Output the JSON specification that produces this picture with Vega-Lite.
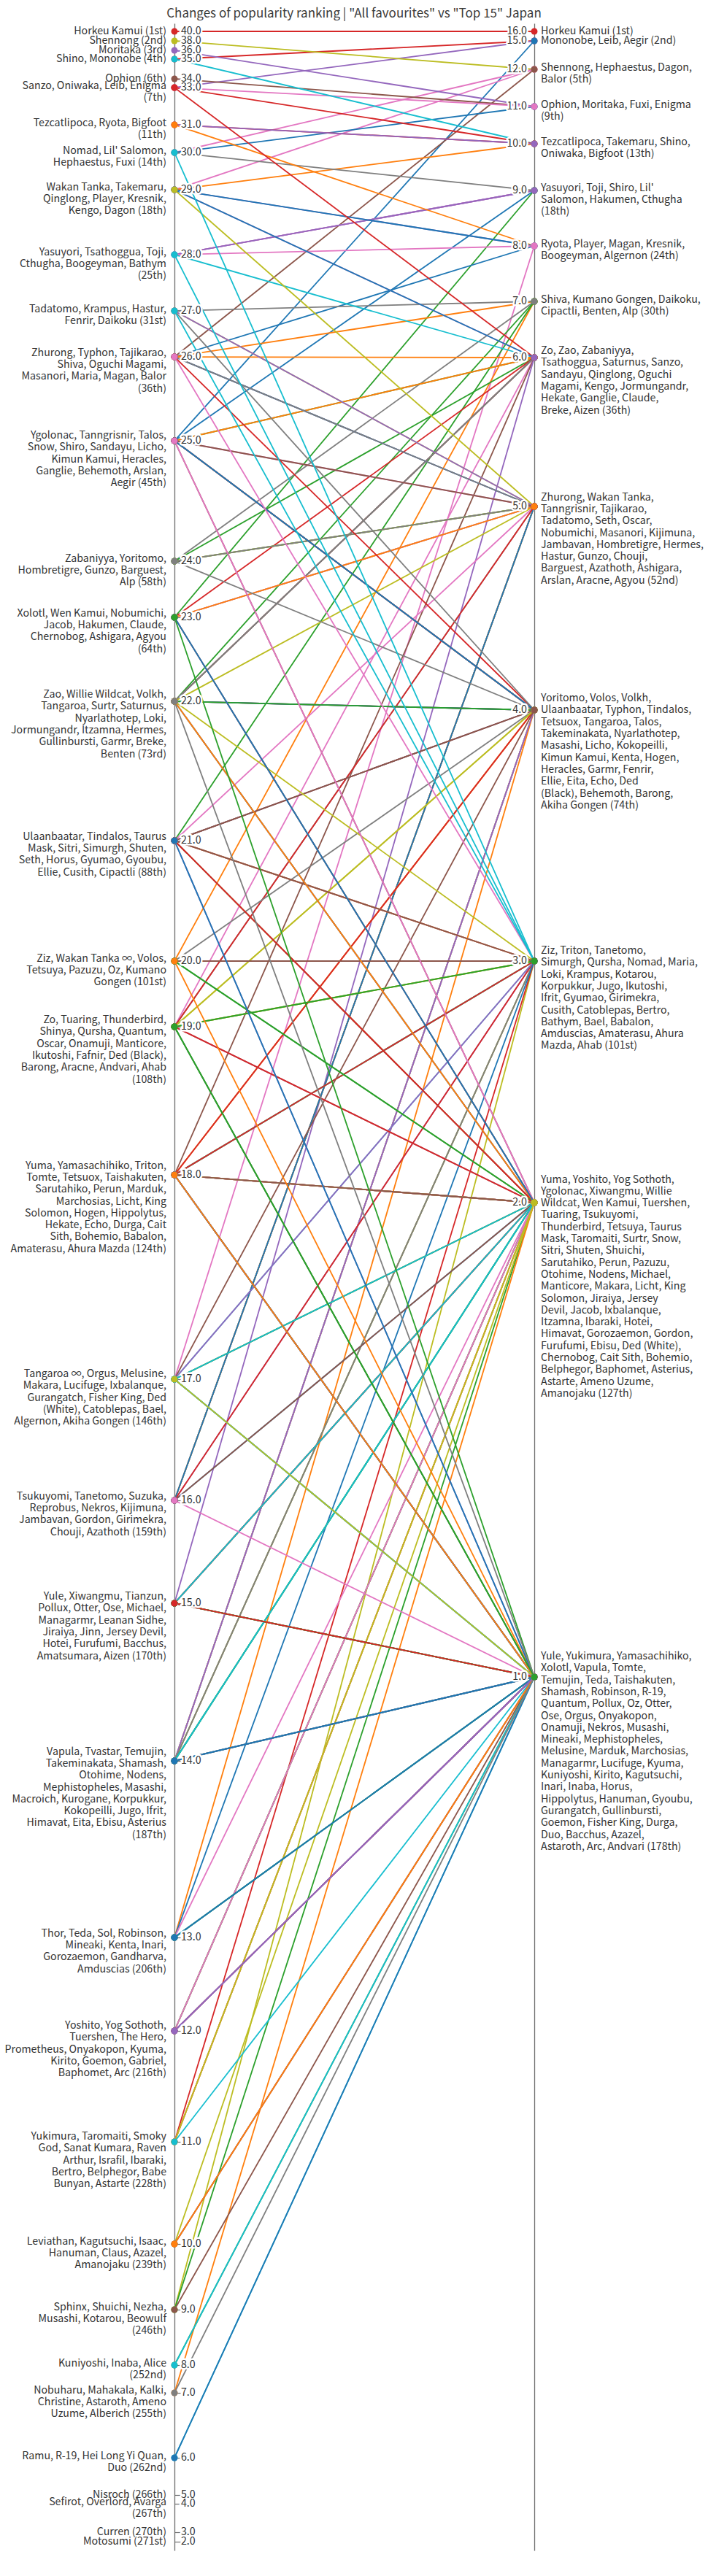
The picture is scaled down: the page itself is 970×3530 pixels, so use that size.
{
"$schema": "https://vega.github.io/schema/vega-lite/v6.json",
"width": 970,
"height": 3463,
"autosize": {"type": "none"},
"padding": {"top": 32, "left": 0, "right": 0, "bottom": 35},
"background": "white",
"title": {"text": "Changes of popularity ranking | \"All favourites\" vs \"Top 15\" Japan", "fontSize": 17, "font": "Noto Sans CJK JP", "fontWeight": "normal", "color": "#3a3a3a", "anchor": "middle", "frame": "group", "baseline": "alphabetic", "offset": -9},
"config": {"view": {"stroke": null}, "font": "Noto Sans CJK JP"},
"datasets": {
"chars": [
{"name":"Horkeu Kamui","All favourites":40,"Top 15":16},
{"name":"Mononobe","All favourites":35,"Top 15":15},
{"name":"Leib","All favourites":33,"Top 15":15},
{"name":"Aegir","All favourites":25,"Top 15":15},
{"name":"Shennong","All favourites":38,"Top 15":12},
{"name":"Hephaestus","All favourites":30,"Top 15":12},
{"name":"Dagon","All favourites":29,"Top 15":12},
{"name":"Balor","All favourites":26,"Top 15":12},
{"name":"Ophion","All favourites":34,"Top 15":11},
{"name":"Moritaka","All favourites":36,"Top 15":11},
{"name":"Fuxi","All favourites":30,"Top 15":11},
{"name":"Enigma","All favourites":33,"Top 15":11},
{"name":"Tezcatlipoca","All favourites":31,"Top 15":10},
{"name":"Takemaru","All favourites":29,"Top 15":10},
{"name":"Shino","All favourites":35,"Top 15":10},
{"name":"Oniwaka","All favourites":33,"Top 15":10},
{"name":"Bigfoot","All favourites":31,"Top 15":10},
{"name":"Yasuyori","All favourites":28,"Top 15":9},
{"name":"Toji","All favourites":28,"Top 15":9},
{"name":"Shiro","All favourites":25,"Top 15":9},
{"name":"Lil' Salomon","All favourites":30,"Top 15":9},
{"name":"Hakumen","All favourites":23,"Top 15":9},
{"name":"Cthugha","All favourites":28,"Top 15":9},
{"name":"Ryota","All favourites":31,"Top 15":8},
{"name":"Player","All favourites":29,"Top 15":8},
{"name":"Magan","All favourites":26,"Top 15":8},
{"name":"Kresnik","All favourites":29,"Top 15":8},
{"name":"Boogeyman","All favourites":28,"Top 15":8},
{"name":"Algernon","All favourites":17,"Top 15":8},
{"name":"Shiva","All favourites":26,"Top 15":7},
{"name":"Kumano Gongen","All favourites":20,"Top 15":7},
{"name":"Daikoku","All favourites":27,"Top 15":7},
{"name":"Cipactli","All favourites":21,"Top 15":7},
{"name":"Benten","All favourites":22,"Top 15":7},
{"name":"Alp","All favourites":24,"Top 15":7},
{"name":"Zo","All favourites":19,"Top 15":6},
{"name":"Zao","All favourites":22,"Top 15":6},
{"name":"Zabaniyya","All favourites":24,"Top 15":6},
{"name":"Tsathoggua","All favourites":28,"Top 15":6},
{"name":"Saturnus","All favourites":22,"Top 15":6},
{"name":"Sanzo","All favourites":33,"Top 15":6},
{"name":"Sandayu","All favourites":25,"Top 15":6},
{"name":"Qinglong","All favourites":29,"Top 15":6},
{"name":"Oguchi Magami","All favourites":26,"Top 15":6},
{"name":"Kengo","All favourites":29,"Top 15":6},
{"name":"Jormungandr","All favourites":22,"Top 15":6},
{"name":"Hekate","All favourites":18,"Top 15":6},
{"name":"Ganglie","All favourites":25,"Top 15":6},
{"name":"Claude","All favourites":23,"Top 15":6},
{"name":"Breke","All favourites":22,"Top 15":6},
{"name":"Aizen","All favourites":15,"Top 15":6},
{"name":"Zhurong","All favourites":26,"Top 15":5},
{"name":"Wakan Tanka","All favourites":29,"Top 15":5},
{"name":"Tanngrisnir","All favourites":25,"Top 15":5},
{"name":"Tajikarao","All favourites":26,"Top 15":5},
{"name":"Tadatomo","All favourites":27,"Top 15":5},
{"name":"Seth","All favourites":21,"Top 15":5},
{"name":"Oscar","All favourites":19,"Top 15":5},
{"name":"Nobumichi","All favourites":23,"Top 15":5},
{"name":"Masanori","All favourites":26,"Top 15":5},
{"name":"Kijimuna","All favourites":16,"Top 15":5},
{"name":"Jambavan","All favourites":16,"Top 15":5},
{"name":"Hombretigre","All favourites":24,"Top 15":5},
{"name":"Hermes","All favourites":22,"Top 15":5},
{"name":"Hastur","All favourites":27,"Top 15":5},
{"name":"Gunzo","All favourites":24,"Top 15":5},
{"name":"Chouji","All favourites":16,"Top 15":5},
{"name":"Barguest","All favourites":24,"Top 15":5},
{"name":"Azathoth","All favourites":16,"Top 15":5},
{"name":"Ashigara","All favourites":23,"Top 15":5},
{"name":"Arslan","All favourites":25,"Top 15":5},
{"name":"Aracne","All favourites":19,"Top 15":5},
{"name":"Agyou","All favourites":23,"Top 15":5},
{"name":"Yoritomo","All favourites":24,"Top 15":4},
{"name":"Volos","All favourites":20,"Top 15":4},
{"name":"Volkh","All favourites":22,"Top 15":4},
{"name":"Ulaanbaatar","All favourites":21,"Top 15":4},
{"name":"Typhon","All favourites":26,"Top 15":4},
{"name":"Tindalos","All favourites":21,"Top 15":4},
{"name":"Tetsuox","All favourites":18,"Top 15":4},
{"name":"Tangaroa","All favourites":22,"Top 15":4},
{"name":"Talos","All favourites":25,"Top 15":4},
{"name":"Takeminakata","All favourites":14,"Top 15":4},
{"name":"Nyarlathotep","All favourites":22,"Top 15":4},
{"name":"Masashi","All favourites":14,"Top 15":4},
{"name":"Licho","All favourites":25,"Top 15":4},
{"name":"Kokopeilli","All favourites":14,"Top 15":4},
{"name":"Kimun Kamui","All favourites":25,"Top 15":4},
{"name":"Kenta","All favourites":13,"Top 15":4},
{"name":"Hogen","All favourites":18,"Top 15":4},
{"name":"Heracles","All favourites":25,"Top 15":4},
{"name":"Garmr","All favourites":22,"Top 15":4},
{"name":"Fenrir","All favourites":27,"Top 15":4},
{"name":"Ellie","All favourites":21,"Top 15":4},
{"name":"Eita","All favourites":14,"Top 15":4},
{"name":"Echo","All favourites":18,"Top 15":4},
{"name":"Ded (Black)","All favourites":19,"Top 15":4},
{"name":"Behemoth","All favourites":25,"Top 15":4},
{"name":"Barong","All favourites":19,"Top 15":4},
{"name":"Akiha Gongen","All favourites":17,"Top 15":4},
{"name":"Ziz","All favourites":20,"Top 15":3},
{"name":"Triton","All favourites":18,"Top 15":3},
{"name":"Tanetomo","All favourites":16,"Top 15":3},
{"name":"Simurgh","All favourites":21,"Top 15":3},
{"name":"Qursha","All favourites":19,"Top 15":3},
{"name":"Nomad","All favourites":30,"Top 15":3},
{"name":"Maria","All favourites":26,"Top 15":3},
{"name":"Loki","All favourites":22,"Top 15":3},
{"name":"Krampus","All favourites":27,"Top 15":3},
{"name":"Kotarou","All favourites":9,"Top 15":3},
{"name":"Korpukkur","All favourites":14,"Top 15":3},
{"name":"Jugo","All favourites":14,"Top 15":3},
{"name":"Ikutoshi","All favourites":19,"Top 15":3},
{"name":"Ifrit","All favourites":14,"Top 15":3},
{"name":"Gyumao","All favourites":21,"Top 15":3},
{"name":"Girimekra","All favourites":16,"Top 15":3},
{"name":"Cusith","All favourites":21,"Top 15":3},
{"name":"Catoblepas","All favourites":17,"Top 15":3},
{"name":"Bertro","All favourites":11,"Top 15":3},
{"name":"Bathym","All favourites":28,"Top 15":3},
{"name":"Bael","All favourites":17,"Top 15":3},
{"name":"Babalon","All favourites":18,"Top 15":3},
{"name":"Amduscias","All favourites":13,"Top 15":3},
{"name":"Amaterasu","All favourites":18,"Top 15":3},
{"name":"Ahura Mazda","All favourites":18,"Top 15":3},
{"name":"Ahab","All favourites":19,"Top 15":3},
{"name":"Yuma","All favourites":18,"Top 15":2},
{"name":"Yoshito","All favourites":12,"Top 15":2},
{"name":"Yog Sothoth","All favourites":12,"Top 15":2},
{"name":"Ygolonac","All favourites":25,"Top 15":2},
{"name":"Xiwangmu","All favourites":15,"Top 15":2},
{"name":"Willie Wildcat","All favourites":22,"Top 15":2},
{"name":"Wen Kamui","All favourites":23,"Top 15":2},
{"name":"Tuershen","All favourites":12,"Top 15":2},
{"name":"Tuaring","All favourites":19,"Top 15":2},
{"name":"Tsukuyomi","All favourites":16,"Top 15":2},
{"name":"Thunderbird","All favourites":19,"Top 15":2},
{"name":"Tetsuya","All favourites":20,"Top 15":2},
{"name":"Taurus Mask","All favourites":21,"Top 15":2},
{"name":"Taromaiti","All favourites":11,"Top 15":2},
{"name":"Surtr","All favourites":22,"Top 15":2},
{"name":"Snow","All favourites":25,"Top 15":2},
{"name":"Sitri","All favourites":21,"Top 15":2},
{"name":"Shuten","All favourites":21,"Top 15":2},
{"name":"Shuichi","All favourites":9,"Top 15":2},
{"name":"Sarutahiko","All favourites":18,"Top 15":2},
{"name":"Perun","All favourites":18,"Top 15":2},
{"name":"Pazuzu","All favourites":20,"Top 15":2},
{"name":"Otohime","All favourites":14,"Top 15":2},
{"name":"Nodens","All favourites":14,"Top 15":2},
{"name":"Michael","All favourites":15,"Top 15":2},
{"name":"Manticore","All favourites":19,"Top 15":2},
{"name":"Makara","All favourites":17,"Top 15":2},
{"name":"Licht","All favourites":18,"Top 15":2},
{"name":"King Solomon","All favourites":18,"Top 15":2},
{"name":"Jiraiya","All favourites":15,"Top 15":2},
{"name":"Jersey Devil","All favourites":15,"Top 15":2},
{"name":"Jacob","All favourites":23,"Top 15":2},
{"name":"Ixbalanque","All favourites":17,"Top 15":2},
{"name":"Itzamna","All favourites":22,"Top 15":2},
{"name":"Ibaraki","All favourites":11,"Top 15":2},
{"name":"Hotei","All favourites":15,"Top 15":2},
{"name":"Himavat","All favourites":14,"Top 15":2},
{"name":"Gorozaemon","All favourites":13,"Top 15":2},
{"name":"Gordon","All favourites":16,"Top 15":2},
{"name":"Furufumi","All favourites":15,"Top 15":2},
{"name":"Ebisu","All favourites":14,"Top 15":2},
{"name":"Ded (White)","All favourites":17,"Top 15":2},
{"name":"Chernobog","All favourites":23,"Top 15":2},
{"name":"Cait Sith","All favourites":18,"Top 15":2},
{"name":"Bohemio","All favourites":18,"Top 15":2},
{"name":"Belphegor","All favourites":11,"Top 15":2},
{"name":"Baphomet","All favourites":12,"Top 15":2},
{"name":"Asterius","All favourites":14,"Top 15":2},
{"name":"Astarte","All favourites":11,"Top 15":2},
{"name":"Ameno Uzume","All favourites":7,"Top 15":2},
{"name":"Amanojaku","All favourites":10,"Top 15":2},
{"name":"Yule","All favourites":15,"Top 15":1},
{"name":"Yukimura","All favourites":11,"Top 15":1},
{"name":"Yamasachihiko","All favourites":18,"Top 15":1},
{"name":"Xolotl","All favourites":23,"Top 15":1},
{"name":"Vapula","All favourites":14,"Top 15":1},
{"name":"Tomte","All favourites":18,"Top 15":1},
{"name":"Temujin","All favourites":14,"Top 15":1},
{"name":"Teda","All favourites":13,"Top 15":1},
{"name":"Taishakuten","All favourites":18,"Top 15":1},
{"name":"Shamash","All favourites":14,"Top 15":1},
{"name":"Robinson","All favourites":13,"Top 15":1},
{"name":"R-19","All favourites":6,"Top 15":1},
{"name":"Quantum","All favourites":19,"Top 15":1},
{"name":"Pollux","All favourites":15,"Top 15":1},
{"name":"Oz","All favourites":20,"Top 15":1},
{"name":"Otter","All favourites":15,"Top 15":1},
{"name":"Ose","All favourites":15,"Top 15":1},
{"name":"Orgus","All favourites":17,"Top 15":1},
{"name":"Onyakopon","All favourites":12,"Top 15":1},
{"name":"Onamuji","All favourites":19,"Top 15":1},
{"name":"Nekros","All favourites":16,"Top 15":1},
{"name":"Musashi","All favourites":9,"Top 15":1},
{"name":"Mineaki","All favourites":13,"Top 15":1},
{"name":"Mephistopheles","All favourites":14,"Top 15":1},
{"name":"Melusine","All favourites":17,"Top 15":1},
{"name":"Marduk","All favourites":18,"Top 15":1},
{"name":"Marchosias","All favourites":18,"Top 15":1},
{"name":"Managarmr","All favourites":15,"Top 15":1},
{"name":"Lucifuge","All favourites":17,"Top 15":1},
{"name":"Kyuma","All favourites":12,"Top 15":1},
{"name":"Kuniyoshi","All favourites":8,"Top 15":1},
{"name":"Kirito","All favourites":12,"Top 15":1},
{"name":"Kagutsuchi","All favourites":10,"Top 15":1},
{"name":"Inari","All favourites":13,"Top 15":1},
{"name":"Inaba","All favourites":8,"Top 15":1},
{"name":"Horus","All favourites":21,"Top 15":1},
{"name":"Hippolytus","All favourites":18,"Top 15":1},
{"name":"Hanuman","All favourites":10,"Top 15":1},
{"name":"Gyoubu","All favourites":21,"Top 15":1},
{"name":"Gurangatch","All favourites":17,"Top 15":1},
{"name":"Gullinbursti","All favourites":22,"Top 15":1},
{"name":"Goemon","All favourites":12,"Top 15":1},
{"name":"Fisher King","All favourites":17,"Top 15":1},
{"name":"Durga","All favourites":18,"Top 15":1},
{"name":"Duo","All favourites":6,"Top 15":1},
{"name":"Bacchus","All favourites":15,"Top 15":1},
{"name":"Azazel","All favourites":10,"Top 15":1},
{"name":"Astaroth","All favourites":7,"Top 15":1},
{"name":"Arc","All favourites":12,"Top 15":1},
{"name":"Andvari","All favourites":19,"Top 15":1}
],
"groups": [
{"side":"All favourites","v":40,"label":["Horkeu Kamui (1st)"]},
{"side":"All favourites","v":38,"label":["Shennong (2nd)"]},
{"side":"All favourites","v":36,"label":["Moritaka (3rd)"]},
{"side":"All favourites","v":35,"label":["Shino, Mononobe (4th)"]},
{"side":"All favourites","v":34,"label":["Ophion (6th)"]},
{"side":"All favourites","v":33,"label":["Sanzo, Oniwaka, Leib, Enigma","(7th)"]},
{"side":"All favourites","v":31,"label":["Tezcatlipoca, Ryota, Bigfoot","(11th)"]},
{"side":"All favourites","v":30,"label":["Nomad, Lil' Salomon,","Hephaestus, Fuxi (14th)"]},
{"side":"All favourites","v":29,"label":["Wakan Tanka, Takemaru,","Qinglong, Player, Kresnik,","Kengo, Dagon (18th)"]},
{"side":"All favourites","v":28,"label":["Yasuyori, Tsathoggua, Toji,","Cthugha, Boogeyman, Bathym","(25th)"]},
{"side":"All favourites","v":27,"label":["Tadatomo, Krampus, Hastur,","Fenrir, Daikoku (31st)"]},
{"side":"All favourites","v":26,"label":["Zhurong, Typhon, Tajikarao,","Shiva, Oguchi Magami,","Masanori, Maria, Magan, Balor","(36th)"]},
{"side":"All favourites","v":25,"label":["Ygolonac, Tanngrisnir, Talos,","Snow, Shiro, Sandayu, Licho,","Kimun Kamui, Heracles,","Ganglie, Behemoth, Arslan,","Aegir (45th)"]},
{"side":"All favourites","v":24,"label":["Zabaniyya, Yoritomo,","Hombretigre, Gunzo, Barguest,","Alp (58th)"]},
{"side":"All favourites","v":23,"label":["Xolotl, Wen Kamui, Nobumichi,","Jacob, Hakumen, Claude,","Chernobog, Ashigara, Agyou","(64th)"]},
{"side":"All favourites","v":22,"label":["Zao, Willie Wildcat, Volkh,","Tangaroa, Surtr, Saturnus,","Nyarlathotep, Loki,","Jormungandr, Itzamna, Hermes,","Gullinbursti, Garmr, Breke,","Benten (73rd)"]},
{"side":"All favourites","v":21,"label":["Ulaanbaatar, Tindalos, Taurus","Mask, Sitri, Simurgh, Shuten,","Seth, Horus, Gyumao, Gyoubu,","Ellie, Cusith, Cipactli (88th)"]},
{"side":"All favourites","v":20,"label":["Ziz, Wakan Tanka ∞, Volos,","Tetsuya, Pazuzu, Oz, Kumano","Gongen (101st)"]},
{"side":"All favourites","v":19,"label":["Zo, Tuaring, Thunderbird,","Shinya, Qursha, Quantum,","Oscar, Onamuji, Manticore,","Ikutoshi, Fafnir, Ded (Black),","Barong, Aracne, Andvari, Ahab","(108th)"]},
{"side":"All favourites","v":18,"label":["Yuma, Yamasachihiko, Triton,","Tomte, Tetsuox, Taishakuten,","Sarutahiko, Perun, Marduk,","Marchosias, Licht, King","Solomon, Hogen, Hippolytus,","Hekate, Echo, Durga, Cait","Sith, Bohemio, Babalon,","Amaterasu, Ahura Mazda (124th)"]},
{"side":"All favourites","v":17,"label":["Tangaroa ∞, Orgus, Melusine,","Makara, Lucifuge, Ixbalanque,","Gurangatch, Fisher King, Ded","(White), Catoblepas, Bael,","Algernon, Akiha Gongen (146th)"]},
{"side":"All favourites","v":16,"label":["Tsukuyomi, Tanetomo, Suzuka,","Reprobus, Nekros, Kijimuna,","Jambavan, Gordon, Girimekra,","Chouji, Azathoth (159th)"]},
{"side":"All favourites","v":15,"label":["Yule, Xiwangmu, Tianzun,","Pollux, Otter, Ose, Michael,","Managarmr, Leanan Sidhe,","Jiraiya, Jinn, Jersey Devil,","Hotei, Furufumi, Bacchus,","Amatsumara, Aizen (170th)"]},
{"side":"All favourites","v":14,"label":["Vapula, Tvastar, Temujin,","Takeminakata, Shamash,","Otohime, Nodens,","Mephistopheles, Masashi,","Macroich, Kurogane, Korpukkur,","Kokopeilli, Jugo, Ifrit,","Himavat, Eita, Ebisu, Asterius","(187th)"]},
{"side":"All favourites","v":13,"label":["Thor, Teda, Sol, Robinson,","Mineaki, Kenta, Inari,","Gorozaemon, Gandharva,","Amduscias (206th)"]},
{"side":"All favourites","v":12,"label":["Yoshito, Yog Sothoth,","Tuershen, The Hero,","Prometheus, Onyakopon, Kyuma,","Kirito, Goemon, Gabriel,","Baphomet, Arc (216th)"]},
{"side":"All favourites","v":11,"label":["Yukimura, Taromaiti, Smoky","God, Sanat Kumara, Raven","Arthur, Israfil, Ibaraki,","Bertro, Belphegor, Babe","Bunyan, Astarte (228th)"]},
{"side":"All favourites","v":10,"label":["Leviathan, Kagutsuchi, Isaac,","Hanuman, Claus, Azazel,","Amanojaku (239th)"]},
{"side":"All favourites","v":9,"label":["Sphinx, Shuichi, Nezha,","Musashi, Kotarou, Beowulf","(246th)"]},
{"side":"All favourites","v":8,"label":["Kuniyoshi, Inaba, Alice","(252nd)"]},
{"side":"All favourites","v":7,"label":["Nobuharu, Mahakala, Kalki,","Christine, Astaroth, Ameno","Uzume, Alberich (255th)"]},
{"side":"All favourites","v":6,"label":["Ramu, R-19, Hei Long Yi Quan,","Duo (262nd)"]},
{"side":"All favourites","v":5,"label":["Nisroch (266th)"]},
{"side":"All favourites","v":4,"label":["Sefirot, Overlord, Avarga","(267th)"]},
{"side":"All favourites","v":3,"label":["Curren (270th)"]},
{"side":"All favourites","v":2,"label":["Motosumi (271st)"]},
{"side":"Top 15","v":16,"label":["Horkeu Kamui (1st)"]},
{"side":"Top 15","v":15,"label":["Mononobe, Leib, Aegir (2nd)"]},
{"side":"Top 15","v":12,"label":["Shennong, Hephaestus, Dagon,","Balor (5th)"]},
{"side":"Top 15","v":11,"label":["Ophion, Moritaka, Fuxi, Enigma","(9th)"]},
{"side":"Top 15","v":10,"label":["Tezcatlipoca, Takemaru, Shino,","Oniwaka, Bigfoot (13th)"]},
{"side":"Top 15","v":9,"label":["Yasuyori, Toji, Shiro, Lil'","Salomon, Hakumen, Cthugha","(18th)"]},
{"side":"Top 15","v":8,"label":["Ryota, Player, Magan, Kresnik,","Boogeyman, Algernon (24th)"]},
{"side":"Top 15","v":7,"label":["Shiva, Kumano Gongen, Daikoku,","Cipactli, Benten, Alp (30th)"]},
{"side":"Top 15","v":6,"label":["Zo, Zao, Zabaniyya,","Tsathoggua, Saturnus, Sanzo,","Sandayu, Qinglong, Oguchi","Magami, Kengo, Jormungandr,","Hekate, Ganglie, Claude,","Breke, Aizen (36th)"]},
{"side":"Top 15","v":5,"label":["Zhurong, Wakan Tanka,","Tanngrisnir, Tajikarao,","Tadatomo, Seth, Oscar,","Nobumichi, Masanori, Kijimuna,","Jambavan, Hombretigre, Hermes,","Hastur, Gunzo, Chouji,","Barguest, Azathoth, Ashigara,","Arslan, Aracne, Agyou (52nd)"]},
{"side":"Top 15","v":4,"label":["Yoritomo, Volos, Volkh,","Ulaanbaatar, Typhon, Tindalos,","Tetsuox, Tangaroa, Talos,","Takeminakata, Nyarlathotep,","Masashi, Licho, Kokopeilli,","Kimun Kamui, Kenta, Hogen,","Heracles, Garmr, Fenrir,","Ellie, Eita, Echo, Ded","(Black), Behemoth, Barong,","Akiha Gongen (74th)"]},
{"side":"Top 15","v":3,"label":["Ziz, Triton, Tanetomo,","Simurgh, Qursha, Nomad, Maria,","Loki, Krampus, Kotarou,","Korpukkur, Jugo, Ikutoshi,","Ifrit, Gyumao, Girimekra,","Cusith, Catoblepas, Bertro,","Bathym, Bael, Babalon,","Amduscias, Amaterasu, Ahura","Mazda, Ahab (101st)"]},
{"side":"Top 15","v":2,"label":["Yuma, Yoshito, Yog Sothoth,","Ygolonac, Xiwangmu, Willie","Wildcat, Wen Kamui, Tuershen,","Tuaring, Tsukuyomi,","Thunderbird, Tetsuya, Taurus","Mask, Taromaiti, Surtr, Snow,","Sitri, Shuten, Shuichi,","Sarutahiko, Perun, Pazuzu,","Otohime, Nodens, Michael,","Manticore, Makara, Licht, King","Solomon, Jiraiya, Jersey","Devil, Jacob, Ixbalanque,","Itzamna, Ibaraki, Hotei,","Himavat, Gorozaemon, Gordon,","Furufumi, Ebisu, Ded (White),","Chernobog, Cait Sith, Bohemio,","Belphegor, Baphomet, Asterius,","Astarte, Ameno Uzume,","Amanojaku (127th)"]},
{"side":"Top 15","v":1,"label":["Yule, Yukimura, Yamasachihiko,","Xolotl, Vapula, Tomte,","Temujin, Teda, Taishakuten,","Shamash, Robinson, R-19,","Quantum, Pollux, Oz, Otter,","Ose, Orgus, Onyakopon,","Onamuji, Nekros, Musashi,","Mineaki, Mephistopheles,","Melusine, Marduk, Marchosias,","Managarmr, Lucifuge, Kyuma,","Kuniyoshi, Kirito, Kagutsuchi,","Inari, Inaba, Horus,","Hippolytus, Hanuman, Gyoubu,","Gurangatch, Gullinbursti,","Goemon, Fisher King, Durga,","Duo, Bacchus, Azazel,","Astaroth, Arc, Andvari (178th)"]}
]
},
"layer": [
{
"data": {"name": "chars"},
"transform": [
{"fold": ["All favourites", "Top 15"], "as": ["side", "value"]},
{"calculate": "datum.side === 'Top 15' ? -datum.value : datum.value", "as": "key"}
],
"encoding": {
"x": {"field": "side", "type": "nominal", "scale": {"type": "point", "domain": ["All favourites", "Top 15"], "range": [239, 732], "padding": 0}, "axis": {"orient": "bottom", "title": null, "domain": false, "ticks": false, "grid": false, "labelAngle": 0, "labelFontSize": 14.5, "labelFont": "Noto Sans CJK JP", "labelColor": "#333333", "labelPadding": 10}},
"y": {"field": "key", "type": "quantitative", "axis": null, "scale": {"zero": false, "nice": false,
"domain": [-17,-16,-15,-12,-11,-10,-9,-8,-7,-6,-5,-4,-3,-2,-1,0,1,2,3,4,5,6,7,8,9,10,11,12,13,14,15,16,17,18,19,20,21,22,23,24,25,26,27,28,29,30,31,33,34,35,36,38,40,41],
"range": [0,11,24,63,114,165,229,305,381,458,662,941,1285,1616,2266,3463,3463,3451,3438,3399,3387,3336,3247,3209,3133,3043,2903,2751,2623,2381,2165,2024,1858,1578,1375,1285,1120,929,814,737,572,457,394,317,228,177,139,88,76,49,37,24,11,0]}},
"color": {"field": "name", "type": "nominal", "legend": null, "scale": {"range": ["#1f77b4","#ff7f0e","#2ca02c","#d62728","#9467bd","#8c564b","#e377c2","#7f7f7f","#bcbd22","#17becf"]}}
},
"layer": [
{"mark": {"type": "line", "strokeWidth": 1.8}},
{"mark": {"type": "circle", "size": 80, "opacity": 1}}
]
},
{
"data": {"name": "groups"},
"transform": [{"filter": "datum.side === 'All favourites'"}],
"encoding": {
"x": {"datum": "All favourites", "type": "nominal", "axis": null},
"y": {"field": "v", "type": "quantitative", "scale": {"zero": false, "nice": false,
"domain": [1,2,3,4,5,6,7,8,9,10,11,12,13,14,15,16,17,18,19,20,21,22,23,24,25,26,27,28,29,30,31,33,34,35,36,38,40,41],
"range": [3463,3451,3438,3399,3387,3336,3247,3209,3133,3043,2903,2751,2623,2381,2165,2024,1858,1578,1375,1285,1120,929,814,737,572,457,394,317,228,177,139,88,76,49,37,24,11,0]},
"axis": {"orient": "right", "offset": -731, "title": null, "labels": false, "grid": false, "ticks": true, "tickSize": 8, "tickColor": "#6e6e6e", "tickWidth": 1.2, "domainColor": "#6e6e6e", "domainWidth": 1.3,
"values": [2,3,4,5,6,7,8,9,10,11,12,13,14,15,16,17,18,19,20,21,22,23,24,25,26,27,28,29,30,31,33,34,35,36,38,40]}}
},
"layer": [
{"mark": {"type": "text", "align": "left", "baseline": "middle", "dx": 9, "fontSize": 14.2, "font": "Noto Sans CJK JP", "fill": "white", "stroke": "white", "strokeWidth": 5, "strokeJoin": "round"}, "encoding": {"text": {"field": "v", "type": "quantitative", "format": ".1f"}}},
{"mark": {"type": "text", "align": "left", "baseline": "middle", "dx": 9, "fontSize": 14.2, "font": "Noto Sans CJK JP", "fill": "#333333"}, "encoding": {"text": {"field": "v", "type": "quantitative", "format": ".1f"}}},
{"transform": [{"filter": "length(datum.label) == 1"}], "mark": {"type": "text", "align": "right", "baseline": "top", "dx": -11, "dy": -7, "fontSize": 14.2, "lineHeight": 16.3, "font": "Noto Sans CJK JP", "fill": "#333333"}, "encoding": {"text": {"field": "label", "type": "nominal"}}},
{"transform": [{"filter": "length(datum.label) == 2"}], "mark": {"type": "text", "align": "right", "baseline": "top", "dx": -11, "dy": -8.8, "fontSize": 14.2, "lineHeight": 16.3, "font": "Noto Sans CJK JP", "fill": "#333333"}, "encoding": {"text": {"field": "label", "type": "nominal"}}},
{"transform": [{"filter": "length(datum.label) == 3"}], "mark": {"type": "text", "align": "right", "baseline": "top", "dx": -11, "dy": -10.5, "fontSize": 14.2, "lineHeight": 16.3, "font": "Noto Sans CJK JP", "fill": "#333333"}, "encoding": {"text": {"field": "label", "type": "nominal"}}},
{"transform": [{"filter": "length(datum.label) == 4"}], "mark": {"type": "text", "align": "right", "baseline": "top", "dx": -11, "dy": -12.3, "fontSize": 14.2, "lineHeight": 16.3, "font": "Noto Sans CJK JP", "fill": "#333333"}, "encoding": {"text": {"field": "label", "type": "nominal"}}},
{"transform": [{"filter": "length(datum.label) == 5"}], "mark": {"type": "text", "align": "right", "baseline": "top", "dx": -11, "dy": -14, "fontSize": 14.2, "lineHeight": 16.3, "font": "Noto Sans CJK JP", "fill": "#333333"}, "encoding": {"text": {"field": "label", "type": "nominal"}}},
{"transform": [{"filter": "length(datum.label) == 6"}], "mark": {"type": "text", "align": "right", "baseline": "top", "dx": -11, "dy": -15.8, "fontSize": 14.2, "lineHeight": 16.3, "font": "Noto Sans CJK JP", "fill": "#333333"}, "encoding": {"text": {"field": "label", "type": "nominal"}}},
{"transform": [{"filter": "length(datum.label) == 8"}], "mark": {"type": "text", "align": "right", "baseline": "top", "dx": -11, "dy": -19.3, "fontSize": 14.2, "lineHeight": 16.3, "font": "Noto Sans CJK JP", "fill": "#333333"}, "encoding": {"text": {"field": "label", "type": "nominal"}}}
]
},
{
"data": {"name": "groups"},
"transform": [{"filter": "datum.side === 'Top 15'"}],
"encoding": {
"x": {"datum": "Top 15", "type": "nominal", "axis": null},
"y": {"field": "v", "type": "quantitative", "scale": {"zero": false, "nice": false,
"domain": [0,1,2,3,4,5,6,7,8,9,10,11,12,15,16,17],
"range": [3463,2266,1616,1285,941,662,458,381,305,229,165,114,63,24,11,0]},
"axis": {"orient": "left", "offset": -732, "title": null, "labels": false, "grid": false, "ticks": true, "tickSize": 8, "tickColor": "#6e6e6e", "tickWidth": 1.2, "domainColor": "#6e6e6e", "domainWidth": 1.3,
"values": [1,2,3,4,5,6,7,8,9,10,11,12,15,16]}}
},
"layer": [
{"mark": {"type": "text", "align": "right", "baseline": "middle", "dx": -10, "fontSize": 14.2, "font": "Noto Sans CJK JP", "fill": "white", "stroke": "white", "strokeWidth": 5, "strokeJoin": "round"}, "encoding": {"text": {"field": "v", "type": "quantitative", "format": ".1f"}}},
{"mark": {"type": "text", "align": "right", "baseline": "middle", "dx": -10, "fontSize": 14.2, "font": "Noto Sans CJK JP", "fill": "#333333"}, "encoding": {"text": {"field": "v", "type": "quantitative", "format": ".1f"}}},
{"transform": [{"filter": "length(datum.label) == 1"}], "mark": {"type": "text", "align": "left", "baseline": "top", "dx": 9, "dy": -7, "fontSize": 14.2, "lineHeight": 16.3, "font": "Noto Sans CJK JP", "fill": "#333333"}, "encoding": {"text": {"field": "label", "type": "nominal"}}},
{"transform": [{"filter": "length(datum.label) == 2"}], "mark": {"type": "text", "align": "left", "baseline": "top", "dx": 9, "dy": -8.8, "fontSize": 14.2, "lineHeight": 16.3, "font": "Noto Sans CJK JP", "fill": "#333333"}, "encoding": {"text": {"field": "label", "type": "nominal"}}},
{"transform": [{"filter": "length(datum.label) == 3"}], "mark": {"type": "text", "align": "left", "baseline": "top", "dx": 9, "dy": -10.5, "fontSize": 14.2, "lineHeight": 16.3, "font": "Noto Sans CJK JP", "fill": "#333333"}, "encoding": {"text": {"field": "label", "type": "nominal"}}},
{"transform": [{"filter": "length(datum.label) == 6"}], "mark": {"type": "text", "align": "left", "baseline": "top", "dx": 9, "dy": -15.8, "fontSize": 14.2, "lineHeight": 16.3, "font": "Noto Sans CJK JP", "fill": "#333333"}, "encoding": {"text": {"field": "label", "type": "nominal"}}},
{"transform": [{"filter": "length(datum.label) == 8"}], "mark": {"type": "text", "align": "left", "baseline": "top", "dx": 9, "dy": -19.3, "fontSize": 14.2, "lineHeight": 16.3, "font": "Noto Sans CJK JP", "fill": "#333333"}, "encoding": {"text": {"field": "label", "type": "nominal"}}},
{"transform": [{"filter": "length(datum.label) == 9"}], "mark": {"type": "text", "align": "left", "baseline": "top", "dx": 9, "dy": -21, "fontSize": 14.2, "lineHeight": 16.3, "font": "Noto Sans CJK JP", "fill": "#333333"}, "encoding": {"text": {"field": "label", "type": "nominal"}}},
{"transform": [{"filter": "length(datum.label) == 10"}], "mark": {"type": "text", "align": "left", "baseline": "top", "dx": 9, "dy": -22.8, "fontSize": 14.2, "lineHeight": 16.3, "font": "Noto Sans CJK JP", "fill": "#333333"}, "encoding": {"text": {"field": "label", "type": "nominal"}}},
{"transform": [{"filter": "length(datum.label) == 17"}], "mark": {"type": "text", "align": "left", "baseline": "top", "dx": 9, "dy": -35, "fontSize": 14.2, "lineHeight": 16.3, "font": "Noto Sans CJK JP", "fill": "#333333"}, "encoding": {"text": {"field": "label", "type": "nominal"}}},
{"transform": [{"filter": "length(datum.label) == 19"}], "mark": {"type": "text", "align": "left", "baseline": "top", "dx": 9, "dy": -38.5, "fontSize": 14.2, "lineHeight": 16.3, "font": "Noto Sans CJK JP", "fill": "#333333"}, "encoding": {"text": {"field": "label", "type": "nominal"}}}
]
}
],
"resolve": {"scale": {"y": "independent"}, "axis": {"y": "independent"}}
}
